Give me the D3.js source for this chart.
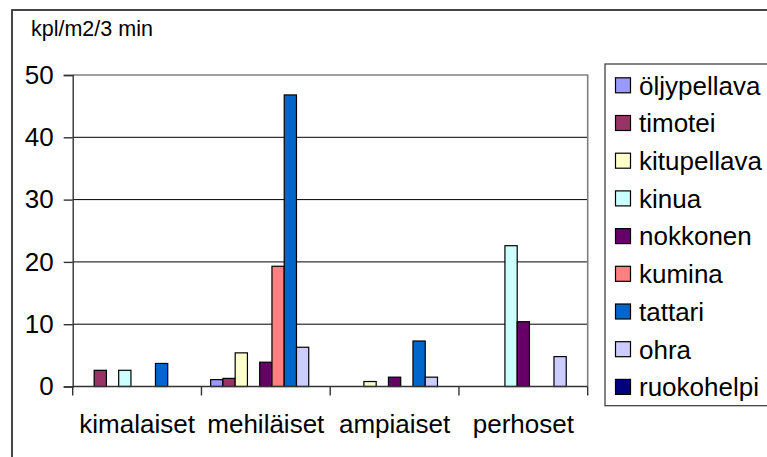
<!DOCTYPE html>
<html>
<head>
<meta charset="utf-8">
<script src="https://cdn.jsdelivr.net/npm/d3@7"></script>
<style>
  html, body { margin: 0; padding: 0; background: #fff; }
  svg { display: block; font-family: Arial, "Liberation Sans", sans-serif; }
</style>
</head>
<body>
<svg id="chart" width="767" height="457"></svg>
<script>
// Insect groups on the x axis
const categories = ["kimalaiset", "mehiläiset", "ampiaiset", "perhoset"];

// Crops (one bar per crop in every group)
const crops = ["öljypellava", "timotei", "kitupellava", "kinua", "nokkonen", "kumina", "tattari", "ohra", "ruokohelpi"];

// Counts per crop, in the order of categories (kpl/m2/3 min)
const oljypellava = [0, 1.1, 0, 0];
const timotei     = [2.6, 1.3, 0, 0];
const kitupellava = [0, 5.4, 0.8, 0];
const kinua       = [2.6, 0, 0, 22.6];
const nokkonen    = [0, 3.9, 1.5, 10.4];
const kumina      = [0, 19.3, 0, 0];
const tattari     = [3.7, 46.8, 7.3, 0];
const ohra        = [0, 6.3, 1.5, 4.8];
const ruokohelpi  = [0, 0, 0, 0];

const yTicks = [0, 10, 20, 30, 40, 50];
const unitLabel = "kpl/m2/3 min";

const colors = ["#9999FF", "#993366", "#FFFFCC", "#CCFFFF", "#660066", "#FF8080", "#0066CC", "#CCCCFF", "#000080"];

const seriesValues = [oljypellava, timotei, kitupellava, kinua, nokkonen, kumina, tattari, ohra, ruokohelpi];
const rows = [];
crops.forEach((crop, si) => {
  categories.forEach((cat, ci) => {
    rows.push({ crop, cat, value: seriesValues[si][ci], color: colors[si] });
  });
});

const svg = d3.select("#chart");

// Chart area frame
svg.append("rect")
  .attr("x", 12).attr("y", 10)
  .attr("width", 800).attr("height", 500)
  .attr("fill", "#fff").attr("stroke", "#333").attr("stroke-width", 1.8);

const plot = { left: 72.7, right: 587.7, top: 75, bottom: 386.5 };

const x = d3.scaleBand().domain(categories).range([plot.left, plot.right]).paddingInner(0).paddingOuter(0);
const xInner = d3.scaleBand().domain(crops).range([0, x.bandwidth()]).paddingInner(0).paddingOuter(0.75);
const y = d3.scaleLinear().domain([0, 50]).range([plot.bottom, plot.top]);

// Horizontal gridlines
svg.append("g")
  .selectAll("line")
  .data(yTicks.filter(t => t > 0 && t < 50))
  .join("line")
  .attr("x1", plot.left).attr("x2", plot.right)
  .attr("y1", d => y(d)).attr("y2", d => y(d))
  .attr("stroke", "#000").attr("stroke-width", 1);

// Plot area border (top and right)
svg.append("path")
  .attr("d", `M${plot.left},${y(50)}H${plot.right}V${plot.bottom}`)
  .attr("fill", "none").attr("stroke", "#808080").attr("stroke-width", 1.6);

// Bars
svg.append("g")
  .selectAll("rect")
  .data(rows.filter(d => d.value > 0))
  .join("rect")
  .attr("x", d => x(d.cat) + xInner(d.crop))
  .attr("y", d => y(d.value))
  .attr("width", xInner.bandwidth())
  .attr("height", d => y(0) - y(d.value))
  .attr("fill", d => d.color)
  .attr("stroke", "#000").attr("stroke-width", 1.2);

// Y axis
const yAxis = d3.axisLeft(y).tickValues(yTicks).tickSize(9).tickPadding(10).tickFormat(d3.format("d"));
const gy = svg.append("g").attr("transform", `translate(${plot.left},0)`).call(yAxis);
gy.select(".domain").attr("stroke", "#333").attr("stroke-width", 1.4);
gy.selectAll(".tick line").attr("stroke", "#333").attr("stroke-width", 1.4);
gy.selectAll(".tick text")
  .attr("font-size", 26).attr("fill", "#000")
  .attr("font-family", "Arial, 'Liberation Sans', sans-serif");

// X axis: baseline with ticks on group boundaries
const gx = svg.append("g");
gx.append("line")
  .attr("x1", plot.left).attr("x2", plot.right)
  .attr("y1", y(0)).attr("y2", y(0))
  .attr("stroke", "#333").attr("stroke-width", 1.4);
const boundaries = categories.map(c => x(c)).concat([plot.right]);
gx.selectAll("line.tick")
  .data(boundaries)
  .join("line")
  .attr("class", "tick")
  .attr("x1", d => d).attr("x2", d => d)
  .attr("y1", y(0)).attr("y2", y(0) + 9)
  .attr("stroke", "#333").attr("stroke-width", 1.4);
gx.selectAll("text")
  .data(categories)
  .join("text")
  .attr("x", d => x(d) + x.bandwidth() / 2)
  .attr("y", 433)
  .attr("text-anchor", "middle")
  .attr("font-size", 26)
  .text(d => d);

// Unit label
svg.append("text")
  .attr("x", 31).attr("y", 36)
  .attr("font-size", 21.5)
  .text(unitLabel);

// Legend
const legend = svg.append("g");
legend.append("rect")
  .attr("x", 605).attr("y", 64)
  .attr("width", 200).attr("height", 341.7)
  .attr("fill", "#fff").attr("stroke", "#333").attr("stroke-width", 1.2);
const item = legend.selectAll("g.item")
  .data(crops)
  .join("g")
  .attr("class", "item")
  .attr("transform", (d, i) => `translate(0,${85.3 + i * 37.7})`);
item.append("rect")
  .attr("x", 615.5).attr("y", -7.5)
  .attr("width", 15).attr("height", 15)
  .attr("fill", (d, i) => colors[i])
  .attr("stroke", "#000").attr("stroke-width", 1.2);
item.append("text")
  .attr("x", 639).attr("y", 9.3)
  .attr("font-size", 26)
  .text(d => d);
</script>
</body>
</html>
